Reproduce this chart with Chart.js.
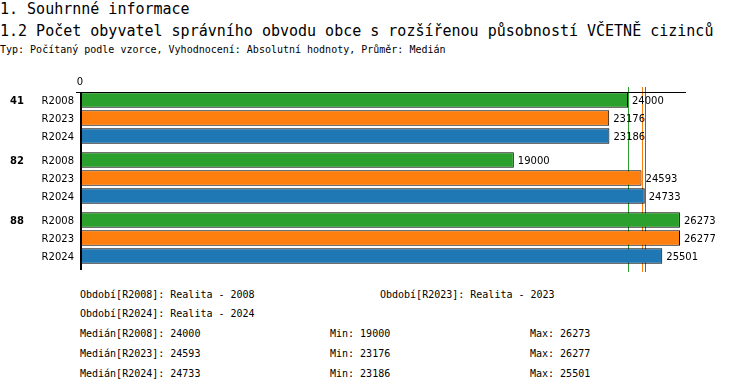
<!DOCTYPE html>
<html>
<head>
<meta charset="utf-8">
<script src="https://cdn.jsdelivr.net/npm/chart.js@4"></script>
<style>
    body { margin: 0; background: #fff; width: 750px; height: 392px; position: relative; overflow: hidden; }
    .t { position: absolute; white-space: pre; color: #000; font-family: 'DejaVu Sans Mono', monospace; }
    .h { font-size: 15px; line-height: 18px; left: 0; }
    .s { font-size: 10px; line-height: 12px; }
    #wrap { position: absolute; left: 0; top: 60px; width: 750px; height: 220px; }
</style>
</head>
<body>
<div class="t h" style="top:0px">1. Souhrnné informace</div>
<div class="t h" style="top:22px">1.2 Počet obyvatel správního obvodu obce s rozšířenou působností VČETNĚ cizinců</div>
<div class="t s" style="top:44px;left:0">Typ: Počítaný podle vzorce, Vyhodnocení: Absolutní hodnoty, Průměr: Medián</div>
<div id="wrap"><canvas id="chart"></canvas></div>
<div id="notes"></div>
<script>
// Data
const groups = ['41', '82', '88'];
const periods = ['R2008', 'R2023', 'R2024'];
const periodNames = ['Realita - 2008', 'Realita - 2023', 'Realita - 2024'];
const r2008 = [24000, 19000, 26273];
const r2023 = [23176, 24593, 26277];
const r2024 = [23186, 24733, 25501];

const series = [r2008, r2023, r2024];
const colors = ['#2ca02c', '#ff7f0e', '#1f77b4'];

const median = arr => {
    const s = [...arr].sort((a, b) => a - b);
    const m = Math.floor(s.length / 2);
    return s.length % 2 ? s[m] : (s[m - 1] + s[m]) / 2;
};
const allValues = series.flat();

// Median lines behind the bars
const medianLines = {
    id: 'medianLines',
    beforeDatasetsDraw(chart) {
        const { ctx, chartArea, scales } = chart;
        ctx.save();
        ctx.lineWidth = 1;
        series.forEach((vals, i) => {
            const x = Math.round(scales.x.getPixelForValue(median(vals))) + 0.5;
            ctx.strokeStyle = colors[i];
            ctx.beginPath();
            ctx.moveTo(x, chartArea.top - 1);
            ctx.lineTo(x, chartArea.bottom + 4);
            ctx.stroke();
        });
        ctx.restore();
    }
};

// Axis lines, bar labels, values
const barLabels = {
    id: 'barLabels',
    afterDatasetsDraw(chart) {
        const { ctx, chartArea } = chart;
        const first = chart.getDatasetMeta(0).data[0];
        const topY = Math.round(first.y - first.height / 2) + 0.5;
        ctx.save();
        ctx.strokeStyle = '#000';
        ctx.lineWidth = 1;
        ctx.beginPath();
        ctx.moveTo(chartArea.left - 4, topY);
        ctx.lineTo(chartArea.right, topY);
        ctx.stroke();
        ctx.lineWidth = 2;
        ctx.beginPath();
        ctx.moveTo(chartArea.left + 1, topY - 0.5);
        ctx.lineTo(chartArea.left + 1, chartArea.bottom + 2);
        ctx.stroke();

        ctx.fillStyle = '#000';
        ctx.textBaseline = 'middle';
        chart.data.datasets.forEach((ds, di) => {
            chart.getDatasetMeta(di).data.forEach((bar, j) => {
                ctx.font = '10px "DejaVu Sans"';
                ctx.textAlign = 'left';
                ctx.fillText(String(ds.data[j]), bar.x + 4, bar.y + 1);
                ctx.textAlign = 'right';
                ctx.fillText(ds.label, 74, bar.y + 1);
                if (di === 0) {
                    ctx.font = 'bold 10px "DejaVu Sans"';
                    ctx.textAlign = 'left';
                    ctx.fillText(groups[j], 10, bar.y + 1);
                }
            });
        });
        ctx.restore();
    }
};

new Chart(document.getElementById('chart'), {
    type: 'bar',
    data: {
        labels: groups,
        datasets: periods.map((p, i) => ({
            label: p,
            data: series[i],
            backgroundColor: colors[i],
            borderColor: '#000',
            borderWidth: 1,
            borderSkipped: false,
            categoryPercentage: 0.9,
            barPercentage: 0.86
        }))
    },
    options: {
        indexAxis: 'y',
        responsive: true,
        maintainAspectRatio: false,
        animation: false,
        layout: { padding: { top: 0, right: 64, bottom: 12, left: 0 } },
        plugins: { legend: { display: false }, tooltip: { enabled: false } },
        scales: {
            x: {
                position: 'top',
                min: 0,
                max: Math.max(...allValues) * 1.01,
                grid: { display: false, drawTicks: false },
                border: { display: false },
                ticks: {
                    autoSkip: false,
                    maxRotation: 0,
                    padding: 0,
                    color: '#000',
                    font: { family: 'DejaVu Sans', size: 10 },
                    callback: v => (v === 0 ? '0' : '')
                },
                afterFit: s => { s.height = 28; }
            },
            y: {
                grid: { display: false },
                border: { display: false },
                ticks: { display: false },
                afterFit: s => { s.width = 80; }
            }
        }
    },
    plugins: [medianLines, barLabels]
});

// Legend / statistics text below the chart
const notes = document.getElementById('notes');
const addText = (txt, left, top) => {
    const d = document.createElement('div');
    d.className = 't s';
    d.style.left = left + 'px';
    d.style.top = top + 'px';
    d.textContent = txt;
    notes.appendChild(d);
};
addText(`Období[${periods[0]}]: ${periodNames[0]}`, 80, 289);
addText(`Období[${periods[1]}]: ${periodNames[1]}`, 380, 289);
addText(`Období[${periods[2]}]: ${periodNames[2]}`, 80, 308);
periods.forEach((p, i) => {
    const top = 328 + i * 20;
    addText(`Medián[${p}]: ${median(series[i])}`, 80, top);
    addText(`Min: ${Math.min(...series[i])}`, 330, top);
    addText(`Max: ${Math.max(...series[i])}`, 530, top);
});
</script>
</body>
</html>
